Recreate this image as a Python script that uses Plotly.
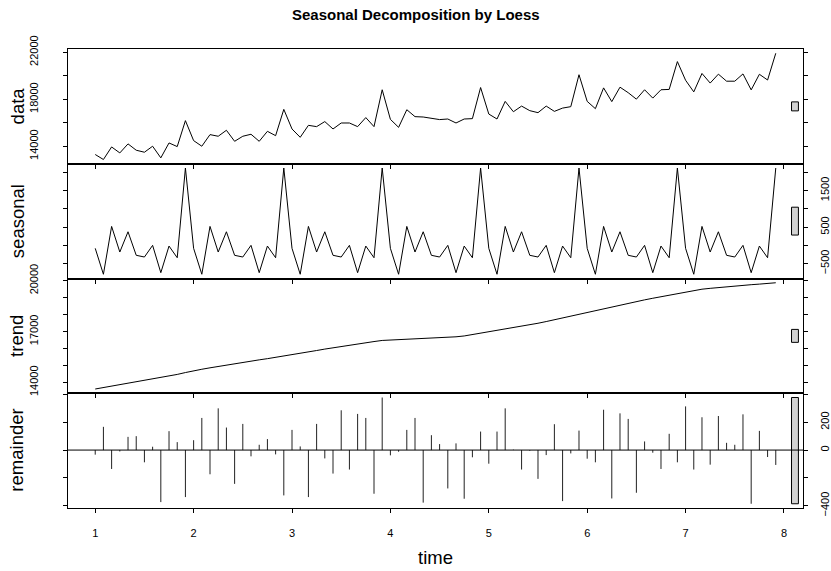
import plotly.graph_objects as go

# ---------------- data ----------------
start = 1.0
frequency = 12

data = [13296, 12870, 13940, 13430, 14200, 13660, 13490, 14000, 13010, 14280, 13970, 16180,
        14480, 14000, 14990, 14850, 15360, 14420, 14850, 15020, 14420, 15270, 14900, 17140,
        15470, 14760, 15780, 15670, 16100, 15470, 15980, 15980, 15670, 16440, 15670, 18810,
        16290, 15610, 17110, 16520, 16490, 16350, 16270, 16320, 15980, 16320, 16350, 19000,
        16740, 16320, 17820, 16940, 17420, 17030, 16860, 17420, 16970, 17250, 17370, 20090,
        17820, 17200, 18970, 17800, 19030, 18560, 18010, 18810, 18100, 18810, 18840, 21210,
        19620, 18630, 20200, 19380, 20140, 19540, 19540, 20160, 18800, 20130, 19640, 21920]

seasonal = [-82, -792, 519, -183, 372, -273, -320, 0, -749, -19, -339, 2120,
            -82, -792, 519, -183, 372, -273, -320, 0, -749, -19, -339, 2120,
            -82, -792, 519, -183, 372, -273, -320, 0, -749, -19, -339, 2120,
            -82, -792, 519, -183, 372, -273, -320, 0, -749, -19, -339, 2120,
            -82, -792, 519, -183, 372, -273, -320, 0, -749, -19, -339, 2120,
            -82, -792, 519, -183, 372, -273, -320, 0, -749, -19, -339, 2120,
            -82, -792, 519, -183, 372, -273, -320, 0, -749, -19, -339, 2120]

trend = [13610, 13693, 13777, 13860, 13943, 14027, 14110, 14193, 14270, 14370, 14470, 14580,
         14690, 14775, 14860, 14945, 15030, 15105, 15180, 15255, 15330, 15400, 15475, 15545,
         15620, 15705, 15790, 15880, 15965, 16045, 16130, 16210, 16295, 16355, 16410, 16475,
         16495, 16515, 16535, 16555, 16580, 16610, 16635, 16660, 16690, 16740, 16820, 16900,
         16990, 17070, 17150, 17240, 17320, 17410, 17490, 17590, 17700, 17810, 17920, 18030,
         18140, 18250, 18355, 18465, 18570, 18680, 18790, 18870, 18965, 19060, 19160, 19255,
         19350, 19420, 19500, 19550, 19600, 19645, 19690, 19730, 19765, 19800, 19840, 19880]

remainder = [-33, 167, -136, -10, 95, 100, -88, 24, -374, 136, 57, -338,
             71, 231, -174, 300, 162, -243, 188, -45, 38, 79, -31, -326,
             145, 26, -338, 188, -60, -169, 286, -140, 260, 231, -314, 378,
             -38, -12, 145, 231, -378, 107, 43, -276, 48, -350, -52, 133,
             -98, 133, 300, 3, -140, -5, -207, -36, 186, -367, -24, 140,
             -62, -88, 290, -348, 264, 224, -307, 62, -19, -136, 117, -88,
             314, -140, 236, -105, 245, 52, 38, 257, -386, 138, -50, -107]

panel_names = ["data", "seasonal", "trend", "remainder"]
x_ticks = [1, 2, 3, 4, 5, 6, 7, 8]

data_ticks = [14000, 16000, 18000, 20000, 22000]
data_ticklabels = ["14000", "", "18000", "", "22000"]
seasonal_ticks = [-500, 0, 500, 1000, 1500, 2000]
seasonal_ticklabels = ["\u2212500", "", "500", "", "1500", ""]
trend_ticks = [14000, 15000, 16000, 17000, 18000, 19000, 20000]
trend_ticklabels = ["14000", "", "", "17000", "", "", "20000"]
remainder_ticks = [-400, -200, 0, 200, 400]
remainder_ticklabels = ["\u2212400", "", "0", "200", ""]

# ---------------- figure ----------------
n = len(data)
time = [start + i / frequency for i in range(n)]


def padded(vals, f=0.04):
    lo, hi = min(vals), max(vals)
    d = (hi - lo) * f
    return [lo - d, hi + d]


series = [data, seasonal, trend, remainder]
xr = padded(time)
FONT = "Liberation Sans, Arial, sans-serif"

fig = go.Figure()

# panels 1-3: lines
for k in range(3):
    fig.add_trace(go.Scatter(x=time, y=series[k], mode="lines",
                             line=dict(color="black", width=1),
                             xaxis="x" if k == 0 else f"x{k+1}",
                             yaxis="y" if k == 0 else f"y{k+1}",
                             showlegend=False, hoverinfo="skip"))

# panel 4: vertical segments for remainder
sx, sy = [], []
for t, v in zip(time, remainder):
    sx += [t, t, None]
    sy += [0, v, None]
fig.add_trace(go.Scatter(x=sx, y=sy, mode="lines",
                         line=dict(color="#222222", width=1),
                         xaxis="x4", yaxis="y4", showlegend=False, hoverinfo="skip"))

domains = [[0.75, 1.0], [0.5, 0.75], [0.25, 0.5], [0.0, 0.25]]
tickinfo = [(data_ticks, data_ticklabels, "left"),
            (seasonal_ticks, seasonal_ticklabels, "right"),
            (trend_ticks, trend_ticklabels, "left"),
            (remainder_ticks, remainder_ticklabels, "right")]

layout = dict(width=831, height=571,
              margin=dict(l=68, r=28, t=49, b=63, autoexpand=False),
              plot_bgcolor="white", paper_bgcolor="white",
              font=dict(family=FONT, color="black", size=11),
              showlegend=False)

for k in range(4):
    xs = "xaxis" if k == 0 else f"xaxis{k+1}"
    ys = "yaxis" if k == 0 else f"yaxis{k+1}"
    ya = "y" if k == 0 else f"y{k+1}"
    tv, tt, side = tickinfo[k]
    layout[xs] = dict(range=xr, domain=[0, 1], anchor=ya, automargin=False,
                      tickvals=x_ticks, ticktext=[str(v) for v in x_ticks],
                      showticklabels=(k == 3), ticks="outside", ticklen=4,
                      tickcolor="black", tickwidth=1,
                      showline=True, linecolor="black", linewidth=1, mirror=True,
                      showgrid=False, zeroline=False,
                      tickfont=dict(size=11, family=FONT),
                      ticklabelstandoff=11)
    layout[ys] = dict(range=padded(series[k]), domain=domains[k],
                      anchor="x" if k == 0 else f"x{k+1}", automargin=False,
                      side=side, tickvals=tv, ticktext=tt, tickangle=-90,
                      ticks="outside", ticklen=4, tickcolor="black", tickwidth=1,
                      showline=True, linecolor="black", linewidth=1, mirror="allticks",
                      showgrid=False, zeroline=False,
                      tickfont=dict(size=11, family=FONT),
                      ticklabelstandoff=21 if side == "left" else 8)

fig.update_layout(**layout)

# range bars (same height in each panel = smallest data range)
dx = (xr[1] - xr[0]) / 64
mx = min(max(s) - min(s) for s in series)
shapes = []
for k, s in enumerate(series):
    ya = "y" if k == 0 else f"y{k+1}"
    xa = "x" if k == 0 else f"x{k+1}"
    c = (max(s) + min(s)) / 2
    shapes.append(dict(type="rect", xref=xa, yref=ya,
                       x0=xr[1] - dx, x1=xr[1] - 0.4 * dx,
                       y0=c - mx / 2, y1=c + mx / 2,
                       fillcolor="#D3D3D3", line=dict(color="black", width=1),
                       layer="above"))
# zero line in remainder panel
shapes.append(dict(type="line", xref="x4 domain", yref="y4", x0=0, x1=1, y0=0, y1=0,
                   line=dict(color="black", width=1)))
fig.update_layout(shapes=shapes)

annotations = []
for k, name in enumerate(panel_names):
    d = domains[k]
    annotations.append(dict(text=name, xref="paper", yref="paper",
                            x=0, xshift=-51, y=(d[0] + d[1]) / 2,
                            xanchor="center", yanchor="middle", textangle=-90,
                            showarrow=False, font=dict(size=18.5, family=FONT)))
annotations.append(dict(text="time", xref="paper", yref="paper", x=0.5, y=0,
                        yshift=-49, xanchor="center", yanchor="middle",
                        showarrow=False, font=dict(size=18.5, family=FONT)))
annotations.append(dict(text="<b>Seasonal Decomposition by Loess</b>",
                        xref="paper", yref="paper", x=(415.5 - 68) / (831 - 68 - 28),
                        y=1, yshift=35, xanchor="center", yanchor="middle",
                        showarrow=False, font=dict(size=15, family=FONT)))
fig.update_layout(annotations=annotations)

fig.write_html("out.html")
